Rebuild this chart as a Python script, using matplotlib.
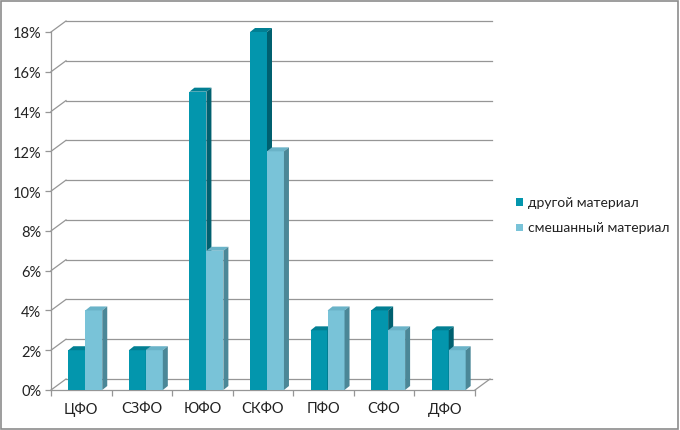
import numpy as np
import matplotlib
matplotlib.use("Agg")
import matplotlib.pyplot as plt
from matplotlib.patches import Polygon, Rectangle

regions = ["ЦФО", "СЗФО", "ЮФО", "СКФО", "ПФО", "СФО", "ДФО"]
other = [2, 2, 15, 18, 3, 4, 3]
mixed = [4, 2, 7, 12, 4, 3, 2]
series_names = ["другой материал", "смешанный материал"]
yticks = list(range(0, 19, 2))

plt.rcParams['font.family'] = ['Lato', 'DejaVu Sans']

W, H = 680, 431
fig = plt.figure(figsize=(W / 100, H / 100), dpi=100)
x0, x1, yb, yt = 51, 475, 391, 33
ax = fig.add_axes([x0 / W, 1 - yb / H, (x1 - x0) / W, (yb - yt) / H])
ax.set_xlim(0, 7)
ax.set_ylim(0, 18)

# pixel -> data helpers
px_x = 7 / (x1 - x0)
px_y = 18 / (yb - yt)
wall_dx, wall_dy = 15 * px_x, 11 * px_y
bar_dx, bar_dy = 5 * px_x, 4 * px_y

grid_c = "#969696"
# back wall gridlines and oblique connectors
for v in yticks:
    ax.plot([0, wall_dx], [v, v + wall_dy], color=grid_c, lw=0.9, clip_on=False)
    ax.plot([wall_dx, 7 + wall_dx + 2 * px_x], [v + wall_dy, v + wall_dy], color=grid_c, lw=0.9, clip_on=False)
# floor right edge
ax.plot([7, 7 + wall_dx], [0, wall_dy], color=grid_c, lw=0.9, clip_on=False)

colors = [("#0396ad", "#017f93", "#00606f"), ("#79c3d8", "#6ab3c8", "#4b8797")]
bw = 0.28
shift = 0.066
for si, vals in enumerate([other, mixed]):
    front, top, side = colors[si]
    for i, v in enumerate(vals):
        left = i + 0.5 + shift - bw + si * bw
        right = left + bw
        ax.add_patch(Rectangle((left, 0), bw, v, facecolor=front, edgecolor="none", clip_on=False, zorder=3))
        ax.add_patch(Polygon([(left, v), (right, v), (right + bar_dx, v + bar_dy), (left + bar_dx, v + bar_dy)],
                             closed=True, facecolor=top, edgecolor="none", clip_on=False, zorder=3))
        ax.add_patch(Polygon([(right, 0), (right + bar_dx, bar_dy), (right + bar_dx, v + bar_dy), (right, v)],
                             closed=True, facecolor=side, edgecolor="none", clip_on=False, zorder=3))

for s in ["top", "right"]:
    ax.spines[s].set_visible(False)
for s in ["left", "bottom"]:
    ax.spines[s].set_color(grid_c)
    ax.spines[s].set_linewidth(0.9)
ax.set_yticks(yticks)
ax.set_yticklabels([f"{v}%" for v in yticks], fontsize=10.5, color="#222222")
ax.set_xticks(range(8))
ax.set_xticklabels([])
ax.set_xticks(np.arange(7) + 0.5, minor=True)
ax.set_xticklabels(regions, minor=True, fontsize=10.5, color="#222222")
ax.tick_params(axis="both", which="major", length=4, color=grid_c, width=0.9, pad=3)
ax.tick_params(axis="x", which="minor", length=0, pad=8)
ax.patch.set_alpha(0)

# legend
for k, name in enumerate(series_names):
    yy = 1 - (203 + 25 * k) / H
    fig.patches.append(Rectangle((516 / W, yy - 3.5 / H), 7 / W, 7 / H, transform=fig.transFigure,
                                 facecolor=colors[k][0], edgecolor="none"))
    fig.text(528 / W, yy, name, fontsize=10, va="center", ha="left", color="#222222")

fig.patches.append(Rectangle((1 / W, 1 / H), (W - 3) / W, (H - 3) / H, transform=fig.transFigure,
                             facecolor="none", edgecolor="#8c8c8c", lw=1.2))

fig.savefig("out.png", dpi=100)
